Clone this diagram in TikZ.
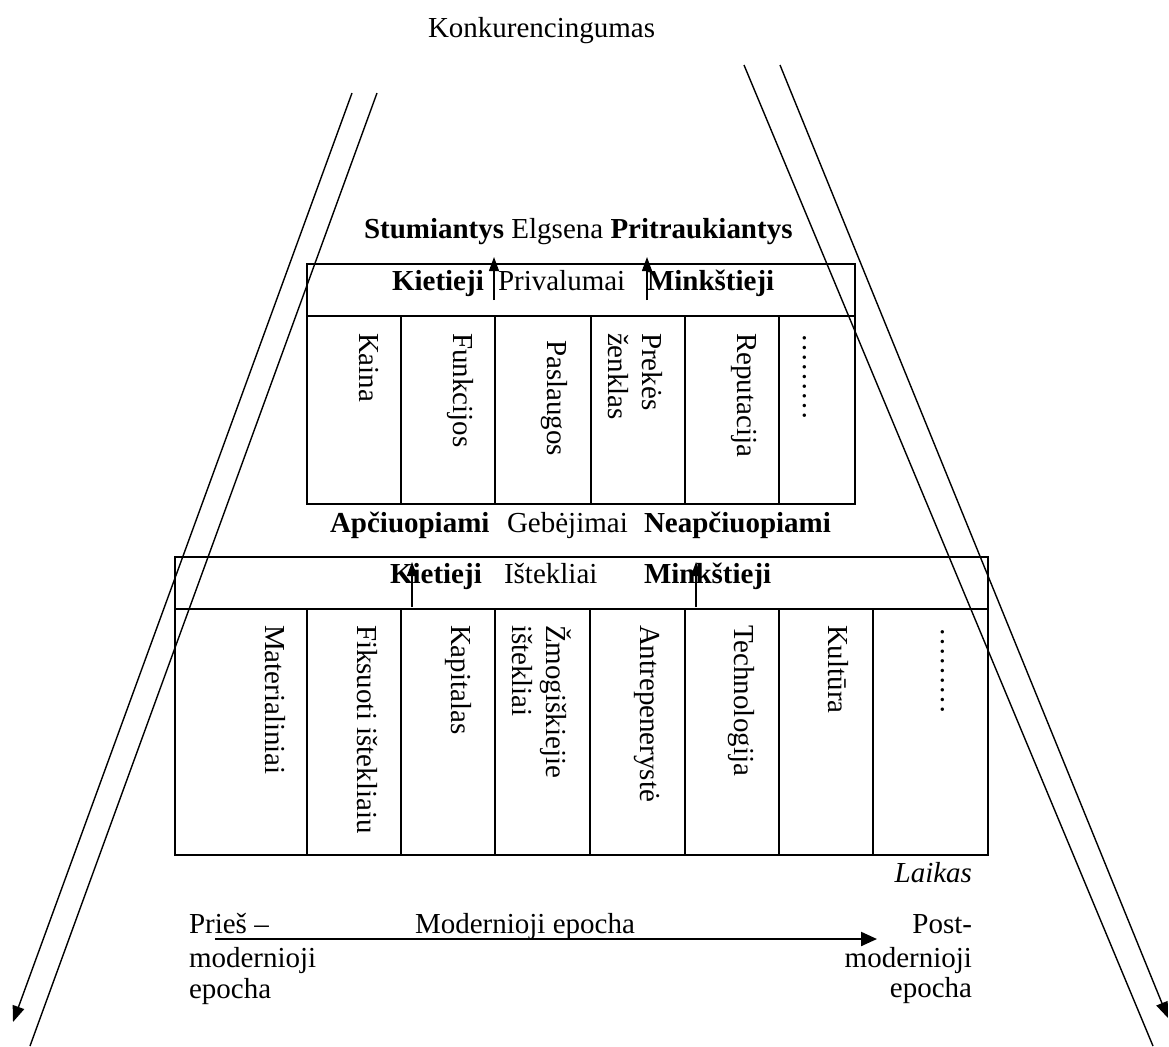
\documentclass[tikz,border=0pt]{standalone}
\usepackage{fontspec}
\setmainfont{Liberation Serif}
\usetikzlibrary{arrows.meta}
\begin{document}
\begin{tikzpicture}[x=0.5pt,y=-0.5pt,
  txt/.style={inner sep=0pt, outer sep=0pt, font=\fontsize{14.5}{16.7}\selectfont},
  htxt/.style={txt, anchor=base west},
  rtxt/.style={txt, anchor=base east},
  vtxt/.style={txt, rotate=-90, anchor=base west},
  tbl/.style={line width=1pt},
  diag/.style={line width=0.7pt},
  diagarr/.style={line width=0.7pt, -{Triangle[length=8pt,width=6pt]}},
  uparr/.style={line width=0.6pt, -{Triangle[length=7pt,width=5pt]}},
  bigarr/.style={line width=1.1pt, -{Triangle[length=8pt,width=7pt]}}]
\useasboundingbox (0,0) rectangle (1169,1046);

% title
\node[htxt] (title) at (428,37) {Konkurencingumas};

% diagonal lines
\coordinate (la1) at (352,93);  \coordinate (la2) at (13,1022);
\coordinate (lb1) at (377,93);  \coordinate (lb2) at (30,1046);
\coordinate (rc1) at (744,65);  \coordinate (rc2) at (1153,1046);
\coordinate (rd1) at (780,65);  \coordinate (rd2) at (1168,1018);
\draw[diagarr] (la1) -- (la2);
\draw[diag] (lb1) -- (lb2);
\draw[diag] (rc1) -- (rc2);
\draw[diagarr] (rd1) -- (rd2);

% behaviour line
\node[htxt] (elgsena) at (364,238) {\textbf{Stumiantys} Elgsena \textbf{Pritraukiantys}};

% upper table
\draw[tbl] (307,264) rectangle (855,504);
\draw[tbl] (307,316) -- (855,316);
\foreach \x in {401,495,591,685,779} \draw[tbl] (\x,316) -- (\x,504);
\node[htxt] (uk) at (392,290) {\textbf{Kietieji}};
\node[htxt] (up) at (498,290) {Privalumai};
\node[htxt] (um) at (647,290) {\textbf{Minkštieji}};
\coordinate (ua1) at (494,300); \coordinate (ua1t) at (494,257);
\coordinate (ua2) at (647,300); \coordinate (ua2t) at (647,257);
\draw[uparr] (ua1) -- (ua1t);
\draw[uparr] (ua2) -- (ua2t);

\node[vtxt] (c1) at (359,333) {Kaina};
\node[vtxt] (c2) at (453,333) {Funkcijos};
\node[vtxt] (c3) at (547,340) {Paslaugos};
\node[vtxt] (c4a) at (642,333) {Prekės};
\node[vtxt] (c4b) at (608,333) {ženklas};
\node[vtxt] (c5) at (737,333) {Reputacija};
\node[vtxt] (c6) at (803,333) {………};

% capabilities line
\node[htxt] (g1) at (330,532) {\textbf{Apčiuopiami}};
\node[htxt] (g2) at (507,532) {Gebėjimai};
\node[htxt] (g3) at (644,532) {\textbf{Neapčiuopiami}};

% lower table
\draw[tbl] (175,557) rectangle (988,855);
\draw[tbl] (175,609) -- (988,609);
\foreach \x in {307,401,495,590,685,779,873} \draw[tbl] (\x,609) -- (\x,855);
\node[htxt] (lk) at (390,583) {\textbf{Kietieji}};
\node[htxt] (li) at (504,583) {Ištekliai};
\node[htxt] (lm) at (644,583) {\textbf{Minkštieji}};
\coordinate (la) at (412,607); \coordinate (lat) at (412,562);
\coordinate (lbb) at (696,607); \coordinate (lbt) at (696,562);
\draw[uparr] (la) -- (lat);
\draw[uparr] (lbb) -- (lbt);

\node[vtxt] (d1) at (265,625) {Materialiniai};
\node[vtxt] (d2) at (357,625) {Fiksuoti ištekliaiu};
\node[vtxt] (d3) at (451,625) {Kapitalas};
\node[vtxt] (d4a) at (546,625) {Žmogiškiejie};
\node[vtxt] (d4b) at (512,625) {ištekliai};
\node[vtxt] (d5) at (640,625) {Antrepenerystė};
\node[vtxt] (d6) at (734,625) {Technologija};
\node[vtxt] (d7) at (828,625) {Kultūra};
\node[vtxt] (d8) at (941,627) {………};

% time
\node[rtxt] (laikas) at (972,882) {\textit{Laikas}};
\node[htxt] (p1) at (189,933) {Prieš –};
\node[htxt] (p2) at (189,967) {modernioji};
\node[htxt] (p3) at (189,998) {epocha};
\node[htxt] (mod) at (415,933) {Modernioji epocha};
\node[rtxt] (q1) at (972,933) {Post-};
\node[rtxt] (q2) at (972,967) {modernioji};
\node[rtxt] (q3) at (972,997) {epocha};
\coordinate (ts) at (215,939); \coordinate (te) at (877,939);
\draw[bigarr] (ts) -- (te);
\end{tikzpicture}
\end{document}
